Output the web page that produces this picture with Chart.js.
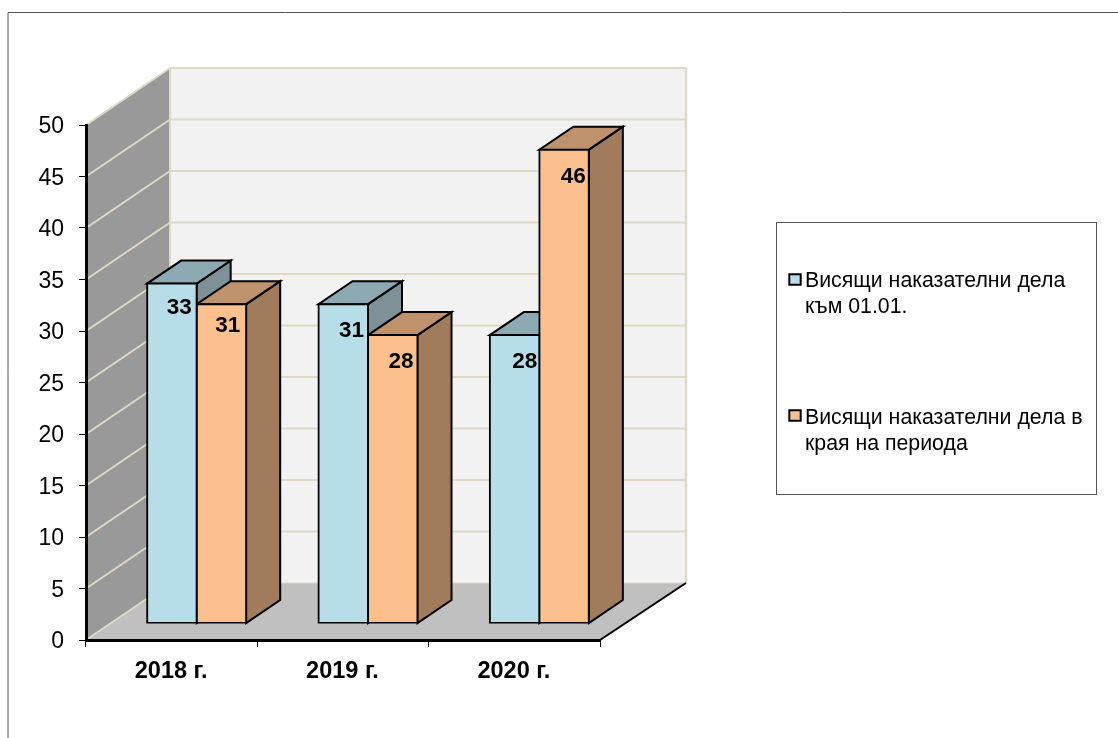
<!DOCTYPE html>
<html><head><meta charset="utf-8">
<style>html,body{margin:0;padding:0;background:#fff}canvas{display:block}</style>
<script src="https://cdn.jsdelivr.net/npm/chart.js@4"></script>
</head><body><canvas id="c" width="1118" height="738"></canvas>
<script>
const categories = ['2018 г.', '2019 г.', '2020 г.'];
const startOfYear = [33, 31, 28];
const endOfPeriod = [31, 28, 46];
const legendLines = [
  ['Висящи наказателни дела', 'към 01.01.'],
  ['Висящи наказателни дела в', 'края на периода']
];

const WALL = {dxLeft: 84, dxRight: 86, dy: -57};
const BAR_OFFSET = {dx: 25, dy: -16.5};
const BAR_DEPTH = {dx: 34, dy: -23};
const BAR_STYLE = [
  {front: '#B7DEE8', side: '#7D9197', top: '#8DA9B2'},
  {front: '#FCC08E', side: '#A07C5C', top: '#BE926C'}
];
const GRID = '#DDD9C3';
const LABEL_NUDGE = [
  [[-5, 24], [-4, 27], [-2, 27]],
  [[-6, 22], [-4, 27], [-3, 27]]
];

function poly(ctx, pts, fill, stroke, lw) {
  ctx.beginPath();
  pts.forEach((p, i) => i ? ctx.lineTo(p[0], p[1]) : ctx.moveTo(p[0], p[1]));
  ctx.closePath();
  if (fill) { ctx.fillStyle = fill; ctx.fill(); }
  if (stroke) { ctx.strokeStyle = stroke; ctx.lineWidth = lw; ctx.lineJoin = 'miter'; ctx.stroke(); }
}
function line(ctx, a, b, color, lw) {
  ctx.beginPath(); ctx.moveTo(a[0], a[1]); ctx.lineTo(b[0], b[1]);
  ctx.strokeStyle = color; ctx.lineWidth = lw; ctx.stroke();
}

const scene = {
  id: 'scene3d',
  beforeDraw(chart) {
    const {ctx, scales: {x, y}} = chart;
    const L = x.left, R = x.right, d = WALL;
    const BL = L + d.dxLeft, BR = R + d.dxRight;
    const y0 = y.getPixelForValue(0), yT = y.getPixelForValue(50);
    ctx.save();
    // frame of the chart
    line(ctx, [8, 738], [8, 12.5], '#555', 1);
    line(ctx, [8, 12.5], [1118, 12.5], '#555', 1);
    // walls and floor
    poly(ctx, [[L, y0], [L, yT], [BL, yT + d.dy], [BL, y0 + d.dy]], '#999999');
    poly(ctx, [[BL, yT + d.dy], [BR, yT + d.dy], [BR, y0 + d.dy], [BL, y0 + d.dy]], '#F2F2F2');
    poly(ctx, [[L, y0], [R, y0], [BR, y0 + d.dy], [BL, y0 + d.dy]], '#C0C0C0');
    // grid lines on both walls
    y.ticks.forEach(t => {
      const py = y.getPixelForValue(t.value);
      line(ctx, [L, py], [BL, py + d.dy], GRID, 2);
      if (t.value > 0) line(ctx, [BL, py + d.dy], [BR, py + d.dy], GRID, 2);
    });
    line(ctx, [BL, yT + d.dy], [BL, y0 + d.dy], GRID, 2);
    line(ctx, [BR, yT + d.dy], [BR, y0 + d.dy], GRID, 2.5);
    line(ctx, [BL, y0 + d.dy], [BR, y0 + d.dy], GRID, 1);
    line(ctx, [R, y0], [BR, y0 + d.dy], '#000', 2);
    ctx.restore();
  },
  beforeDatasetsDraw(chart) {
    const {ctx} = chart;
    ctx.save();
    ctx.translate(BAR_OFFSET.dx, BAR_OFFSET.dy);
    const metas = [chart.getDatasetMeta(0), chart.getDatasetMeta(1)];
    const b = BAR_DEPTH;
    categories.forEach((_, i) => metas.forEach((m, s) => {
      const el = m.data[i], st = BAR_STYLE[s];
      const l = el.x - el.width / 2, r = el.x + el.width / 2, t = el.y, bo = el.base;
      poly(ctx, [[r, bo], [r, t], [r + b.dx, t + b.dy], [r + b.dx, bo + b.dy]], st.side, '#000', 2);
      poly(ctx, [[l, t], [r, t], [r + b.dx, t + b.dy], [l + b.dx, t + b.dy]], st.top, '#000', 2);
    }));
  },
  afterDatasetsDraw(chart) {
    const {ctx} = chart;
    ctx.font = 'bold 22.5px "Liberation Sans"';
    ctx.fillStyle = '#000';
    ctx.textAlign = 'right';
    ctx.textBaseline = 'middle';
    chart.data.datasets.forEach((ds, s) => {
      const m = chart.getDatasetMeta(s);
      ds.data.forEach((v, i) => {
        const el = m.data[i], n = LABEL_NUDGE[s][i];
        ctx.fillText(String(v), el.x + el.width / 2 + n[0], el.y + n[1]);
      });
    });
    ctx.restore();
  },
  afterDraw(chart) {
    const {ctx} = chart;
    ctx.save();
    ctx.strokeStyle = '#555'; ctx.lineWidth = 1;
    ctx.strokeRect(776.5, 222.5, 320, 272);
    ctx.font = '21.3px "Liberation Sans"';
    ctx.textAlign = 'left'; ctx.textBaseline = 'middle';
    const rows = [281, 418];
    const marks = [274.3, 410.3];
    chart.data.datasets.forEach((ds, s) => {
      ctx.fillStyle = ds.backgroundColor;
      ctx.strokeStyle = '#000'; ctx.lineWidth = 2;
      ctx.beginPath(); ctx.rect(789.3, marks[s], 11.4, 10.4); ctx.fill(); ctx.stroke();
      ctx.fillStyle = '#000';
      legendLines[s].forEach((t, k) => ctx.fillText(t, 805, rows[s] + k * 26));
    });
    ctx.restore();
  }
};

new Chart(document.getElementById('c'), {
  type: 'bar',
  data: {
    labels: categories,
    datasets: [
      {label: legendLines[0].join(' '), data: startOfYear, backgroundColor: BAR_STYLE[0].front},
      {label: legendLines[1].join(' '), data: endOfPeriod, backgroundColor: BAR_STYLE[1].front}
    ]
  },
  options: {
    responsive: false,
    animation: false,
    layout: {padding: {left: 0, right: 518, top: 125, bottom: 0}},
    datasets: {bar: {categoryPercentage: 0.578, barPercentage: 1, borderColor: '#000', borderWidth: 2, borderSkipped: false, inflateAmount: 1}},
    plugins: {legend: {display: false}, tooltip: {enabled: false}, title: {display: false}},
    scales: {
      x: {
        grid: {offset: true, drawOnChartArea: false, drawTicks: true, tickLength: 7, tickColor: '#000', tickWidth: 1},
        border: {display: true, color: '#000', width: 3},
        ticks: {font: {family: '"Liberation Sans"', size: 23.5, weight: 'bold'}, color: '#000', padding: 10.5, maxRotation: 0, labelOffset: -0.5},
        afterFit(s) { s.height = 98; }
      },
      y: {
        min: 0, max: 50,
        grid: {drawOnChartArea: false, drawTicks: true, tickLength: 7, tickColor: '#000', tickWidth: 1},
        border: {display: true, color: '#000', width: 3},
        ticks: {stepSize: 5, font: {family: '"Liberation Sans"', size: 23}, color: '#000', padding: 15, labelOffset: 2},
        afterFit(s) { s.width = 86; }
      }
    }
  },
  plugins: [scene]
});
</script></body></html>
